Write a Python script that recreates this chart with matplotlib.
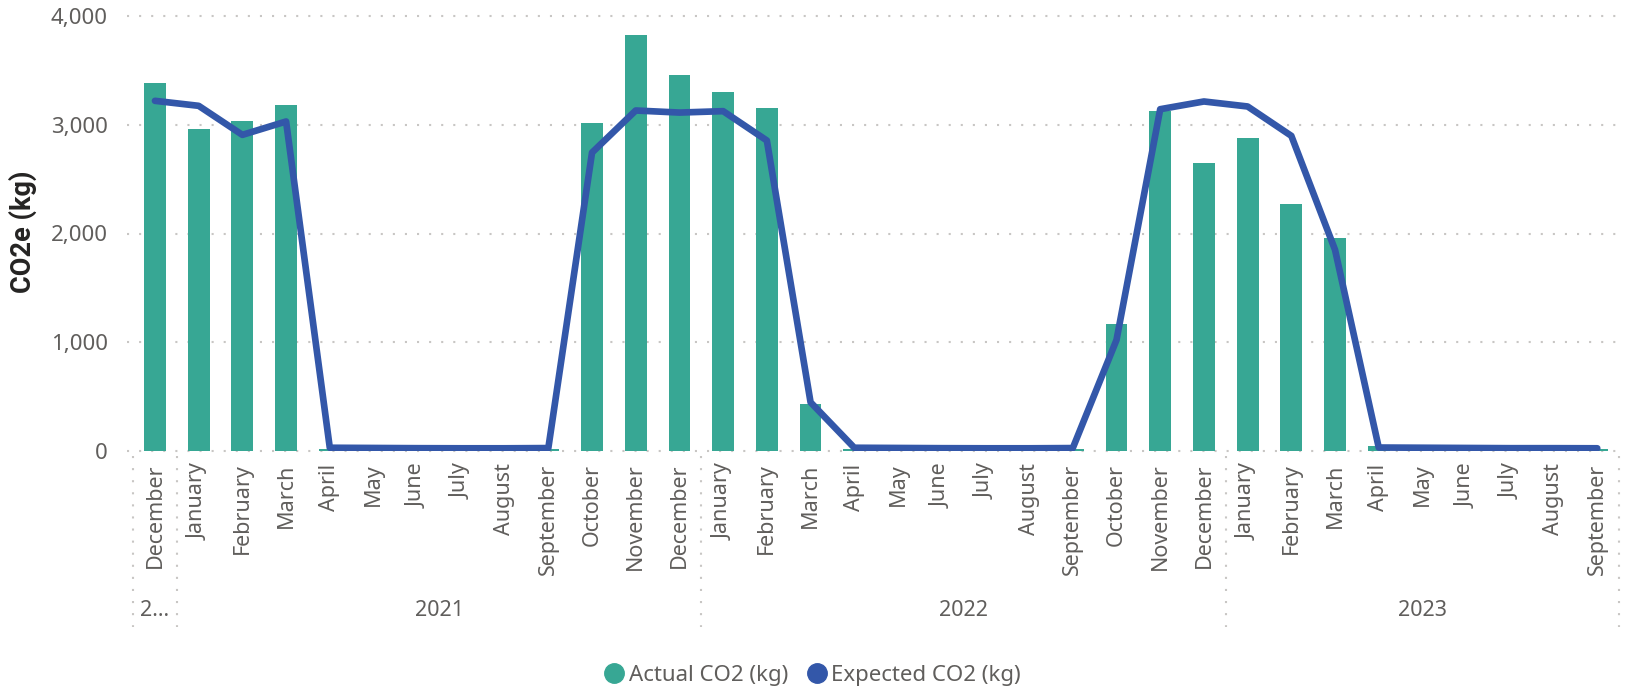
import matplotlib
matplotlib.use("Agg")
import matplotlib.pyplot as plt
import matplotlib.transforms as mtransforms
from matplotlib.lines import Line2D

plt.rcParams['font.family'] = ['Noto Sans', 'DejaVu Sans']

months = ["December",
          "January", "February", "March", "April", "May", "June", "July", "August",
          "September", "October", "November", "December",
          "January", "February", "March", "April", "May", "June", "July", "August",
          "September", "October", "November", "December",
          "January", "February", "March", "April", "May", "June", "July", "August",
          "September"]
years = ["2...", "2021", "2022", "2023"]
year_spans = [(0, 0), (1, 12), (13, 24), (25, 33)]

actual = [3385, 2962, 3036, 3183, 15, 12, 12, 12, 12, 15,
          3017, 3827, 3459, 3303, 3155, 432, 15, 12, 12, 12, 12, 15,
          1168, 3128, 2650, 2880, 2272, 1960, 45, 20, 15, 15, 15, 15]
expected = [3220, 3174, 2907, 3030, 30, 28, 26, 25, 25, 27,
            2744, 3131, 3112, 3125, 2855, 448, 30, 28, 26, 25, 25, 27,
            1021, 3143, 3214, 3168, 2898, 1850, 32, 30, 28, 26, 26, 25]

bar_color = '#37A794'
line_color = '#3357A9'
grid_color = '#C8C6C4'
text_gray = '#605E5C'

W, H = 1625, 691
fig = plt.figure(figsize=(W / 100, H / 100), dpi=100)
ax_left, ax_right, ax_top, ax_bottom = 127, 1620, 16, 451
ax = fig.add_axes([ax_left / W, (H - ax_bottom) / H, (ax_right - ax_left) / W, (ax_bottom - ax_top) / H])

x = list(range(len(months)))
ax.bar(x, actual, width=0.5, color=bar_color, zorder=2)
ax.plot(x, expected, color=line_color, linewidth=4.8, solid_joinstyle='round', solid_capstyle='round', zorder=3)

ax.set_xlim(-0.64, 33.52)
ax.set_ylim(0, 4000)
ax.set_yticks([0, 1000, 2000, 3000, 4000])
ax.set_yticklabels(["0", "1,000", "2,000", "3,000", "4,000"])
for v in [0, 1000, 2000, 3000, 4000]:
    ax.axhline(v, color=grid_color, linewidth=1.5, linestyle=(0, (1, 4.8)), zorder=1, clip_on=False)

for s in ax.spines.values():
    s.set_visible(False)
ax.tick_params(axis='y', length=0, pad=14, labelsize=16, labelcolor=text_gray)
ax.set_xticks(x)
ax.set_xticklabels(months, rotation=90)
ax.tick_params(axis='x', length=0, pad=9, labelsize=15.5, labelcolor=text_gray)

trans = mtransforms.blended_transform_factory(ax.transData, ax.transAxes)
y0 = (ax_bottom - 456) / (ax_bottom - ax_top)
y1 = (ax_bottom - 627) / (ax_bottom - ax_top)
for sep in [-0.5, 0.5, 12.5, 24.5, 33.5]:
    ax.plot([sep, sep], [y0, y1], transform=trans, color=grid_color, linewidth=1.5,
            linestyle=(0, (1, 4.8)), clip_on=False)

yy = (ax_bottom - 611) / (ax_bottom - ax_top)
for lab, (a, b) in zip(years, year_spans):
    ax.text((a + b) / 2, yy, lab, transform=trans, ha='center', va='center',
            fontsize=15.5, color=text_gray)

fig.text(23 / W, (H - 232) / H, "CO2e (kg)", rotation=90, ha='center', va='center',
         fontsize=19.5, fontweight=600, color='#252423', family=['Roboto', 'DejaVu Sans'])

handles = [Line2D([], [], marker='o', linestyle='none', markersize=14, color=bar_color),
           Line2D([], [], marker='o', linestyle='none', markersize=14, color=line_color)]
fig.legend(handles, ["Actual CO2 (kg)", "Expected CO2 (kg)"], loc='center',
           bbox_to_anchor=(812 / W, (H - 675) / H), ncol=2, frameon=False,
           fontsize=16, labelcolor=text_gray, handletextpad=0.15, columnspacing=0.8,
           handlelength=1.0)

fig.savefig("out.png", dpi=100)
